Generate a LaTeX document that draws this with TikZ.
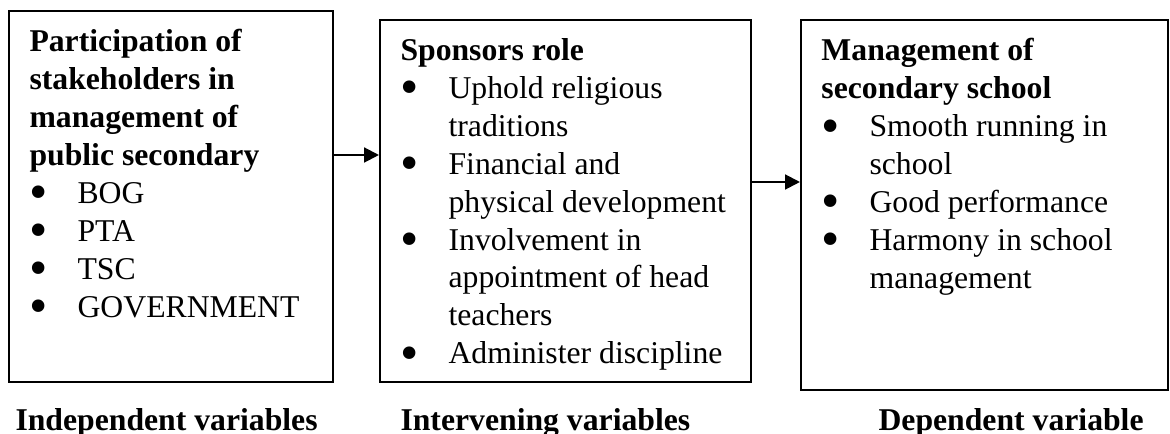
\documentclass[tikz,border=0pt]{standalone}
\usepackage{fontspec}
\setmainfont{Liberation Serif}
\usetikzlibrary{positioning,arrows.meta}

% bullet in a fixed-width box, and the indent for wrapped item lines
\newcommand{\itm}{\makebox[18.2pt][l]{\smash{\raisebox{-2.4pt}{\scalebox{1.65}{\textbullet}}}}}
\newcommand{\cnt}{\hspace*{18.2pt}}

\begin{document}
\begin{tikzpicture}[x=0.3785pt, y=-0.3785pt,
  >={Triangle[length=5.6pt, width=5.6pt]},
  varbox/.style={draw, line width=0.8pt, inner sep=0pt},
  body/.style={anchor=north west, align=left, inner sep=0pt,
    font=\fontsize{12pt}{14.35pt}\selectfont},
  vlab/.style={anchor=base west, inner sep=0pt,
    font=\fontsize{12pt}{14.35pt}\selectfont\bfseries}]
\useasboundingbox (0,0) rectangle (1170,434);
\node[varbox, minimum width=122.6pt, minimum height=140.4pt] (indep) at (171,196.5) {};
\node[varbox, minimum width=140.4pt, minimum height=137.0pt] (interv) at (565.5,201) {};
\node[varbox, minimum width=138.9pt, minimum height=140.0pt] (dep) at (984.5,205) {};
\node[body] (indeptext) at ([shift={(21,19)}]indep.north west)
  {\textbf{Participation of}\\ \textbf{stakeholders in}\\ \textbf{management of}\\
   \textbf{public secondary}\\ \itm BOG\\ \itm PTA\\ \itm TSC\\ \itm GOVERNMENT};
\node[body] (intervtext) at ([shift={(21,19)}]interv.north west)
  {\textbf{Sponsors role}\\ \itm Uphold religious\\ \cnt traditions\\
   \itm Financial and\\ \cnt physical development\\ \itm Involvement in\\
   \cnt appointment of head\\ \cnt teachers\\ \itm Administer discipline};
\node[body] (deptext) at ([shift={(21,19)}]dep.north west)
  {\textbf{Management of}\\ \textbf{secondary school}\\ \itm Smooth running in\\
   \cnt school\\ \itm Good performance\\ \itm Harmony in school\\ \cnt management};
\node[vlab] (indeplab) at (15,430) {Independent variables};
\node[vlab] (intervlab) at (400,430) {Intervening variables};
\node[vlab] (deplab) at (878,430) {Dependent variable};
\coordinate (a1) at (0,155);
\coordinate (a2) at (0,182);
\draw[->, line width=0.8pt] (indep.east |- a1) -- (interv.west |- a1);
\draw[->, line width=0.8pt] (interv.east |- a2) -- (dep.west |- a2);
\end{tikzpicture}
\end{document}
